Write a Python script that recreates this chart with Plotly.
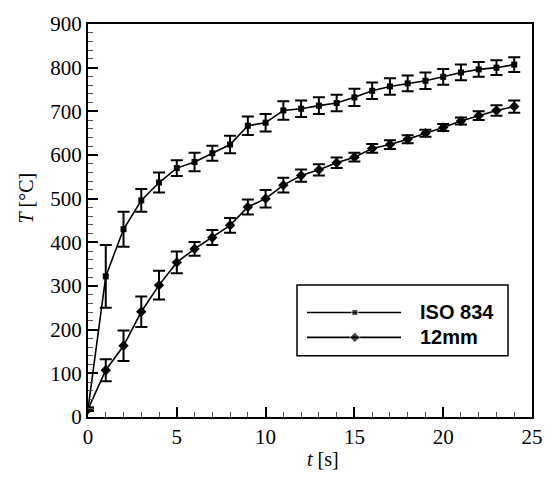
import plotly.graph_objects as go

t = list(range(0, 25))
iso_T = [18, 322, 430, 496, 537, 570, 584, 604, 624, 667, 674, 702, 706, 713, 719, 732, 747, 757, 764, 770, 779, 789, 796, 800, 807]
iso_err = [4, 72, 40, 26, 23, 18, 21, 17, 20, 21, 20, 21, 19, 19, 19, 20, 19, 19, 18, 19, 18, 18, 17, 17, 17]
mm_T = [18, 107, 163, 241, 302, 354, 385, 411, 439, 481, 500, 531, 553, 566, 582, 595, 615, 624, 636, 650, 663, 678, 690, 702, 711]
mm_err = [3, 25, 35, 35, 33, 25, 16, 17, 17, 17, 20, 17, 14, 13, 12, 10, 10, 10, 9, 8, 8, 8, 10, 12, 14]

legend_names = ["ISO 834", "12mm"]
x_ticks = [0, 5, 10, 15, 20, 25]
y_ticks = [0, 100, 200, 300, 400, 500, 600, 700, 800, 900]

serif = "Liberation Serif, Times New Roman, serif"
sans = "Liberation Sans, Arial, sans-serif"

fig = go.Figure()
fig.add_trace(go.Scatter(
    x=t, y=iso_T, mode="lines+markers",
    line=dict(color="black", width=1.6),
    marker=dict(symbol="square", size=6, color="black"),
    error_y=dict(type="data", array=iso_err, color="black", thickness=2, width=6),
    showlegend=False))
fig.add_trace(go.Scatter(
    x=t, y=mm_T, mode="lines+markers",
    line=dict(color="black", width=1.6),
    marker=dict(symbol="diamond", size=8, color="black"),
    error_y=dict(type="data", array=mm_err, color="black", thickness=2, width=6),
    showlegend=False))

# custom legend (overlay axes in paper-like units)
leg_y = [0.266, 0.2025]
leg_sym = ["square", "diamond"]
leg_size = [6, 8]
for name, yy, sym, sz in zip(legend_names, leg_y, leg_sym, leg_size):
    fig.add_trace(go.Scatter(
        x=[0.4932, 0.601, 0.705], y=[yy, yy, yy], mode="lines+markers",
        xaxis="x2", yaxis="y2",
        line=dict(color="black", width=1.6),
        marker=dict(symbol=sym, size=[0, sz, 0], color="black"),
        showlegend=False, hoverinfo="skip"))
    fig.add_annotation(x=0.743, y=yy, xref="paper", yref="paper", text="<b>%s</b>" % name,
                       showarrow=False, xanchor="left", yanchor="middle",
                       font=dict(family=sans, size=20, color="black"))
fig.add_shape(type="rect", xref="paper", yref="paper", x0=0.4707, x1=0.946, y0=0.1556, y1=0.3358,
              line=dict(color="black", width=1.5), fillcolor="rgba(0,0,0,0)")

fig.add_annotation(x=-0.14, y=0.558, xref="paper", yref="paper", text="<i>T</i> [°C]",
                   textangle=-90, showarrow=False, xanchor="center", yanchor="middle",
                   font=dict(family=serif, size=20, color="black"))
fig.add_annotation(x=0.529, y=-0.106, xref="paper", yref="paper", text="<i>t</i> [s]",
                   showarrow=False, xanchor="center", yanchor="middle",
                   font=dict(family=serif, size=20, color="black"))

fig.update_layout(
    width=559, height=477,
    margin=dict(l=88, r=27, t=12, b=60),
    paper_bgcolor="white", plot_bgcolor="white",
    xaxis=dict(range=[0, 25], tickvals=x_ticks, ticks="inside", ticklen=10, tickwidth=2,
               tickcolor="black", showline=True, linecolor="black", linewidth=2, mirror=True,
               showgrid=False, zeroline=False,
               tickfont=dict(family=serif, size=21, color="black"),
               minor=dict(dtick=1, ticks="inside", ticklen=5, tickwidth=1, tickcolor="#555", showgrid=False)),
    yaxis=dict(range=[0, 900], tickvals=y_ticks, ticks="inside", ticklen=10, tickwidth=2,
               tickcolor="black", showline=True, linecolor="black", linewidth=2, mirror=True,
               showgrid=False, zeroline=False,
               tickfont=dict(family=serif, size=21, color="black"),
               minor=dict(dtick=20, ticks="inside", ticklen=5, tickwidth=1, tickcolor="#555", showgrid=False)),
    xaxis2=dict(range=[0, 1], overlaying="x", visible=False, domain=[0, 1]),
    yaxis2=dict(range=[0, 1], overlaying="y", visible=False),
)
fig.write_html("out.html")
